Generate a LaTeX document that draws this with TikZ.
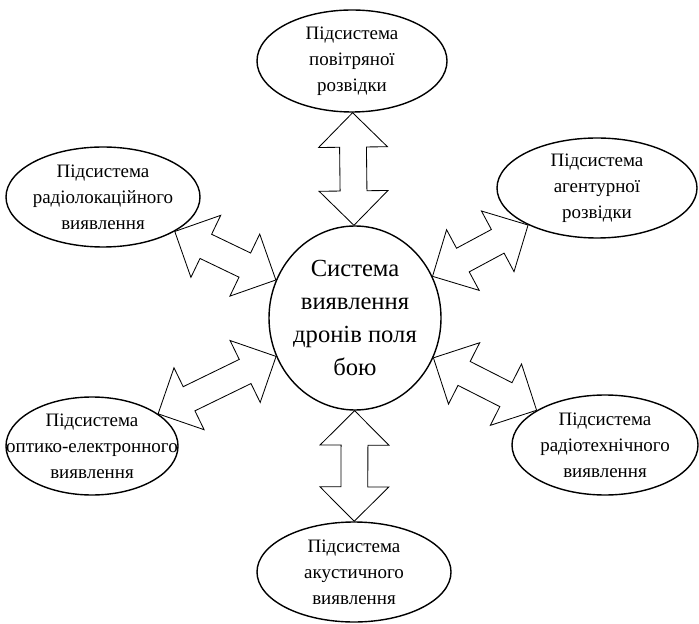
\documentclass[tikz,border=0pt]{standalone}
\usepackage{fontspec}
\setmainfont{Liberation Serif}
\usetikzlibrary{shapes.geometric}
\usetikzlibrary{shapes.arrows}
\usetikzlibrary{calc}

\begin{document}
\begin{tikzpicture}[
        subsystem/.style={ellipse, draw, line width=1pt, inner xsep=-0.9cm, inner ysep=-0.6cm, minimum width=4.8cm, minimum height=2.5cm, align=center, font=\fontsize{13.5}{18.5}\selectfont},
        core/.style={ellipse, draw, line width=1pt, inner xsep=-0.9cm, inner ysep=-0.9cm, minimum width=4.3cm, minimum height=4.6cm, align=center, font=\fontsize{17.5}{23.5}\selectfont},
        link/.style={double arrow, draw, line width=0.6pt, fill=white, inner xsep=0pt, inner ysep=0.325cm, double arrow head extend=0.525cm, double arrow tip angle=90}
    ]
    \useasboundingbox (0,0) rectangle (17.475,-15.6);

    % --- central system ---
    \node[core] (sys) at (8.875,-7.95) {Система\\виявлення\\дронів поля\\бою};

    % --- subsystems ---
    \node[subsystem, minimum width=4.75cm, minimum height=2.55cm] (air) at (8.8,-1.525) {Підсистема\\повітряної\\розвідки};
    \node[subsystem, minimum width=4.85cm] (radar) at (2.575,-4.925) {Підсистема\\радіолокаційного\\виявлення};
    \node[subsystem, minimum width=5cm] (agent) at (14.925,-4.7) {Підсистема\\агентурної\\розвідки};
    \node[subsystem, minimum width=4.3cm, minimum height=2.45cm] (optic) at (2.3,-11.15) {Підсистема\\оптико-електронного\\виявлення};
    \node[subsystem, minimum width=4.65cm] (radio) at (15.125,-11.125) {Підсистема\\радіотехнічного\\виявлення};
    \node[subsystem, minimum width=4.85cm] (acoustic) at (8.85,-14.3) {Підсистема\\акустичного\\виявлення};

    % --- double arrows ---
    \foreach \sub in {air,radar,agent,optic,radio,acoustic}{
        \path (sys) -- (\sub) coordinate[pos=0] (s) coordinate[pos=1] (e);
        \path let \p1=($(e)-(s)$), \n1={veclen(\x1,\y1)} in
            (s) -- (e) node[link, midway, sloped, minimum height=\n1] {};
    }
\end{tikzpicture}
\end{document}
